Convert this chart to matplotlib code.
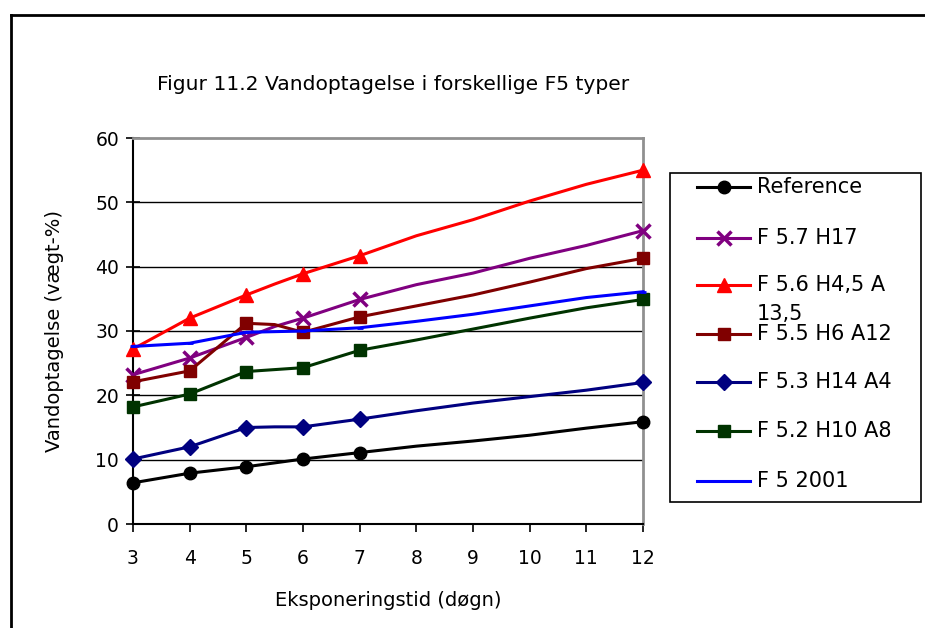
import matplotlib
matplotlib.use("Agg")
import matplotlib.pyplot as plt
from matplotlib.lines import Line2D
from matplotlib.patches import Rectangle

plt.rcParams['font.family'] = ['DejaVu Sans']

days = [3, 4, 5, 5.5, 6, 7, 8, 9, 10, 11, 12]
marked_days = [3, 4, 5, 6, 7, 12]

reference = [6.4, 7.9, 8.9, 9.5, 10.1, 11.1, 12.1, 12.9, 13.8, 14.9, 15.9]
f57_h17 = [23.2, 25.8, 29.0, 30.7, 32.0, 34.9, 37.2, 39.0, 41.3, 43.3, 45.6]
f56_h45_a135 = [27.2, 32.0, 35.6, 37.3, 38.9, 41.7, 44.8, 47.3, 50.2, 52.8, 55.0]
f55_h6_a12 = [22.1, 23.8, 31.2, 31.0, 29.8, 32.2, 33.9, 35.6, 37.6, 39.7, 41.3]
f53_h14_a4 = [10.1, 12.0, 15.0, 15.1, 15.1, 16.3, 17.6, 18.8, 19.8, 20.8, 22.0]
f52_h10_a8 = [18.2, 20.2, 23.7, 24.0, 24.3, 27.0, 28.6, 30.3, 32.0, 33.6, 34.9]
f5_2001 = [27.6, 28.1, 29.8, 29.9, 30.0, 30.5, 31.5, 32.6, 33.9, 35.2, 36.1]

labels = ["Reference", "F 5.7 H17", "F 5.6 H4,5 A", "F 5.5 H6 A12",
          "F 5.3 H14 A4", "F 5.2 H10 A8", "F 5 2001"]
label_wrap = "13,5"
series = [reference, f57_h17, f56_h45_a135, f55_h6_a12, f53_h14_a4, f52_h10_a8, f5_2001]
colors = ["#000000", "#800080", "#FF0000", "#800000", "#000080", "#003300", "#0000FF"]
markers = ["o", "x", "^", "s", "D", "s", "_"]
msizes = [9, 10, 10, 9, 8.5, 9, 5]
mews = [1, 2.5, 1, 1, 1, 1, 2]

x_ticks = list(range(3, 13))
y_ticks = list(range(0, 61, 10))

W, H = 925, 628
fig = plt.figure(figsize=(W/100, H/100), dpi=100)
ax = fig.add_axes([133/W, 1-524/H, 510/W, 386/H])

def fx(px):
    return px / W

def fy(py):
    return 1 - py / H

mark_idx = [days.index(d) for d in marked_days]
for vals, lab, c, m, ms, mw in zip(series, labels, colors, markers, msizes, mews):
    ax.plot(days, vals, color=c, lw=2.2, marker=m, markersize=ms,
            markeredgewidth=mw, markevery=mark_idx, clip_on=False,
            label=lab, zorder=3)

ax.set_xlim(3, 12)
ax.set_ylim(0, 60)
ax.set_xticks(x_ticks)
ax.set_yticks(y_ticks)
for y in y_ticks[1:-1]:
    ax.axhline(y, color="black", lw=1.0, zorder=1)

for s in ["top", "right"]:
    ax.spines[s].set_color("#909090")
    ax.spines[s].set_linewidth(2)
for s in ["left", "bottom"]:
    ax.spines[s].set_color("black")
    ax.spines[s].set_linewidth(1.5)

ax.tick_params(axis="y", direction="inout", length=10, width=1.2, labelsize=13.5, pad=5)
ax.tick_params(axis="x", direction="out", length=6, width=1.2, labelsize=13.5, pad=12)

ax.set_xlabel("Eksponeringstid (døgn)", fontsize=14)
ax.xaxis.set_label_coords(0.5, -(600-524)/386, transform=ax.transAxes)
ax.set_ylabel("Vandoptagelse (vægt-%)", fontsize=14)
ax.yaxis.set_label_coords(-(133-55)/510, 0.5, transform=ax.transAxes)
ax.yaxis.label.set_va("center")
ax.xaxis.label.set_va("center")

fig.text(fx(393), fy(85), "Figur 11.2 Vandoptagelse i forskellige F5 typer",
         ha="center", va="center", fontsize=14.6)

# legend (drawn manually to match the box layout)
fig.add_artist(Rectangle((fx(670), fy(502)), fx(921) - fx(670), fy(173) - fy(502),
                         transform=fig.transFigure, fill=False, edgecolor="black", lw=1.2))
entry_y = [187, 238, 285, 334, 382, 431, 481]
for lab, c, m, ms, mw, ey in zip(labels, colors, markers, msizes, mews, entry_y):
    fig.add_artist(Line2D([fx(697), fx(750)], [fy(ey), fy(ey)], transform=fig.transFigure,
                          color=c, lw=2.2))
    fig.add_artist(Line2D([fx(723.5)], [fy(ey)], transform=fig.transFigure, color=c,
                          marker=m, markersize=ms, markeredgewidth=mw, linestyle="none"))
    fig.text(fx(757), fy(ey), lab, ha="left", va="center", fontsize=15)
fig.text(fx(757), fy(314), label_wrap, ha="left", va="center", fontsize=15)

# outer border (left and top)
fig.add_artist(Line2D([fx(11), fx(11)], [0, fy(15)], transform=fig.transFigure,
                      color="black", lw=2))
fig.add_artist(Line2D([fx(11), 1], [fy(15), fy(15)], transform=fig.transFigure,
                      color="black", lw=2))

fig.savefig("out.png", dpi=100)
